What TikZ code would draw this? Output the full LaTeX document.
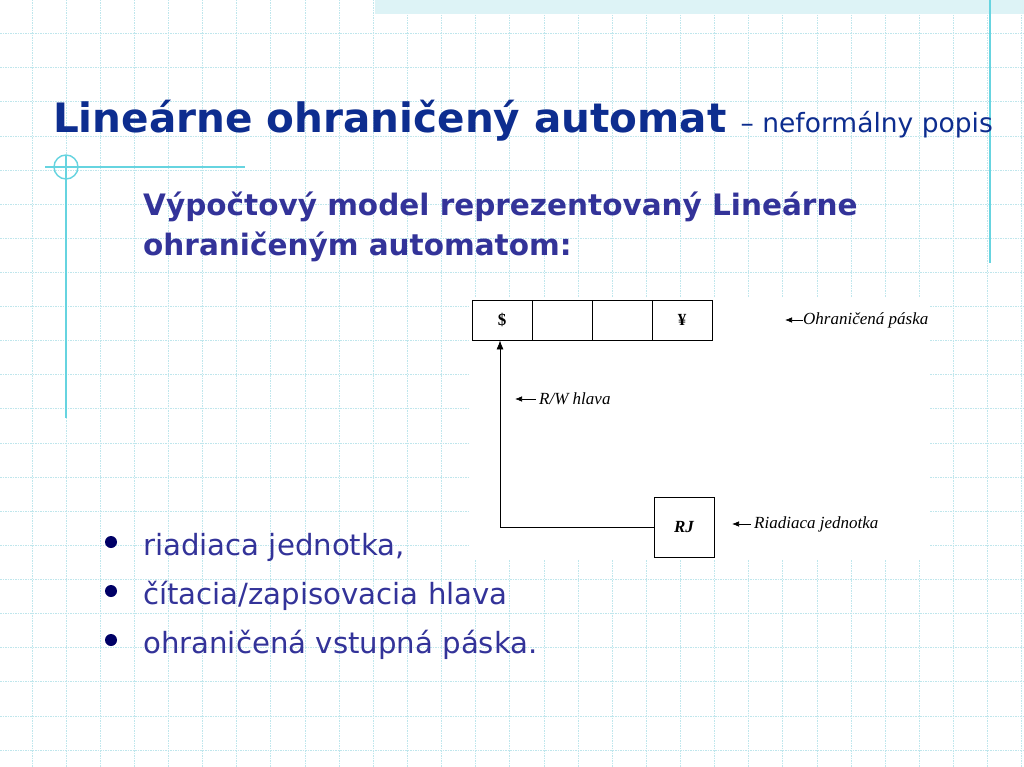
\documentclass[tikz,border=0pt]{standalone}
\usepackage{fontspec}
\setmainfont{DejaVu Sans}
\newfontfamily\labfont{Liberation Serif}
\usetikzlibrary{arrows.meta}
\definecolor{titleblue}{HTML}{0D2D8F}
\definecolor{subblue}{HTML}{333399}
\definecolor{bulletblue}{HTML}{000066}
\definecolor{gridc}{HTML}{BFE6EC}
\definecolor{accent}{HTML}{66D4E0}
\definecolor{band}{HTML}{DDF3F6}
\begin{document}
\begin{tikzpicture}[x=1pt,y=-1pt,
  gridline/.style={gridc, line width=0.9pt, dash pattern=on 1.5pt off 1pt},
  accentline/.style={accent, line width=1.4pt},
  cell/.style={draw=black, line width=0.8pt, minimum width=60pt, minimum height=40pt, inner sep=0pt, font=\labfont\bfseries\fontsize{17}{17}\selectfont},
  lab/.style={font=\labfont\itshape\fontsize{17}{18}\selectfont, inner sep=0pt, anchor=west},
  labarrow/.style={-{Latex[length=7pt,width=5.5pt]}, line width=0.7pt},
  bullettext/.style={subblue, font=\fontsize{29.2}{30}\selectfont, anchor=base west, inner sep=0pt},
  subtext/.style={subblue, font=\bfseries\fontsize{29.5}{32}\selectfont, anchor=base west, inner sep=0pt},
  dot/.style={circle, fill=bulletblue, minimum size=12pt, inner sep=0pt}
]
\useasboundingbox (0,0) rectangle (1024,767);
\fill[white] (0,0) rectangle (1024,767);
% grid
\foreach \k in {0,...,29} \draw[gridline] ({32+34.13*\k},0) -- ({32+34.13*\k},767);
\foreach \k in {0,...,21} \draw[gridline] (0,{33.6+34.12*\k}) -- (1024,{33.6+34.12*\k});
% top band
\fill[band] (375,0) rectangle (1024,14);
% accent lines
\draw[accentline] (45,167) -- (245,167);
\draw[accentline] (66,155) -- (66,418);
\draw[accentline] (66,167) circle (12pt);
\draw[accentline] (990,0) -- (990,263);
% white area behind the diagram
\fill[white] (470,297) rectangle (930,560);
% title
\node[anchor=base west, inner sep=0pt, titleblue] (title) at (53,133)
  {{\bfseries\fontsize{40.5}{44}\selectfont Lineárne ohraničený automat }{\fontsize{26.5}{30}\selectfont – neformálny popis}};
% subheading
\node[subtext] (sub1) at (143,215) {Výpočtový model reprezentovaný Lineárne};
\node[subtext] (sub2) at (143,255) {ohraničeným automatom:};
% bullets
\node[dot] (d1) at (111,542) {};
\node[dot] (d2) at (111,591) {};
\node[dot] (d3) at (111,640) {};
\node[bullettext] (b1) at (143,555) {riadiaca jednotka,};
\node[bullettext] (b2) at (143,604) {čítacia/zapisovacia hlava};
\node[bullettext] (b3) at (143,653) {ohraničená vstupná páska.};
% tape
\node[cell] (c1) at (502,320) {\$};
\node[cell] (c2) at (562,320) {};
\node[cell] (c3) at (622,320) {};
\node[cell] (c4) at (682,320) {¥};
% control unit
\node[cell, minimum width=60pt, minimum height=60pt, font=\labfont\bfseries\itshape\fontsize{17}{17}\selectfont] (rj) at (684,527) {RJ};
\draw[-{Latex[length=9pt,width=7pt]}, line width=0.8pt] (rj.west) -| ([xshift=-2pt]c1.south);
% labels
\node[lab] (lt) at (803,320) {Ohraničená páska};
\coordinate (lta) at (785,320);
\draw[labarrow] (lt.west) -- (lta);
\node[lab] (lh) at (539,399) {R/W hlava};
\coordinate (lha) at (515,399);
\draw[labarrow] ([xshift=-3pt]lh.west) -- (lha);
\node[lab] (lr) at (754,524) {Riadiaca jednotka};
\coordinate (lra) at (732,524);
\draw[labarrow] ([xshift=-3pt]lr.west) -- (lra);
\end{tikzpicture}
\end{document}
